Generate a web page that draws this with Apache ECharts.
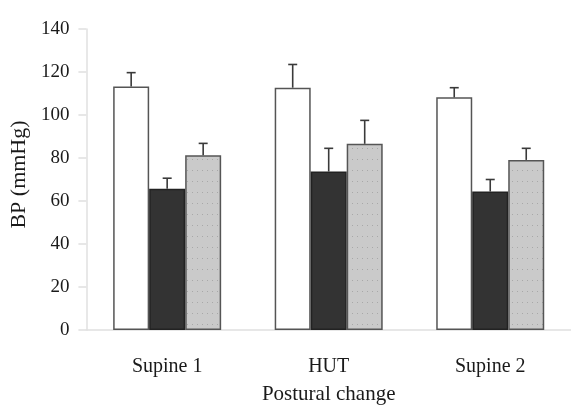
<!DOCTYPE html>
<html>
<head>
<meta charset="utf-8">
<script src="https://cdn.jsdelivr.net/npm/echarts@6/dist/echarts.min.js"></script>
<style>html,body{margin:0;padding:0;background:#fff;}#c{width:571px;height:410px;}</style>
</head>
<body>
<div id="c"></div>
<script>
var categories = ['Supine 1', 'HUT', 'Supine 2'];
var seriesA = [113.3, 112.7, 108.2];
var seriesB = [65.7, 73.7, 64.4];
var seriesC = [81.3, 86.6, 79.1];
var errA = [6.4, 10.8, 4.5];
var errB = [4.9, 10.8, 5.6];
var errC = [5.5, 10.9, 5.4];
var yTicks = [0, 20, 40, 60, 80, 100, 120, 140];

var FONT = 'Liberation Serif';
var BAR_W = 36;

// dotted pattern for light grey bars
var pc = document.createElement('canvas');
pc.width = 10; pc.height = 11;
var px = pc.getContext('2d');
px.fillStyle = '#cacaca';
px.fillRect(0, 0, 10, 11);
px.fillStyle = '#a8a8a8';
px.fillRect(2, 5, 1, 1);
px.fillRect(7, 5, 1, 1);

var chart = echarts.init(document.getElementById('c'), null, {renderer: 'canvas'});

function errSeries(vals, errs, idx) {
  var data = vals.map(function (v, i) { return [i, v, v + errs[i]]; });
  return {
    type: 'custom',
    z: 5,
    data: data,
    renderItem: function (params, api) {
      var c = api.value(0);
      var p0 = api.coord([c, api.value(1)]);
      var p1 = api.coord([c, api.value(2)]);
      var x = p0[0] + (idx - 1) * BAR_W;
      var st = {stroke: '#3a3a3a', lineWidth: 1.6, fill: null};
      return {
        type: 'group',
        children: [
          {type: 'line', shape: {x1: x, y1: p0[1], x2: x, y2: p1[1]}, style: st},
          {type: 'line', shape: {x1: x - 4.5, y1: p1[1], x2: x + 4.5, y2: p1[1]}, style: st}
        ]
      };
    }
  };
}

var option = {
  animation: false,
  backgroundColor: '#fff',
  grid: {left: 86, right: -4, top: 29, bottom: 79, containLabel: false},
  xAxis: {
    type: 'category',
    data: categories,
    name: 'Postural change',
    nameLocation: 'middle',
    nameGap: 54,
    nameTextStyle: {fontFamily: FONT, fontSize: 21, color: '#1a1a1a'},
    axisLine: {lineStyle: {color: '#e0e0e0', width: 1.5}},
    axisTick: {show: false},
    axisLabel: {fontFamily: FONT, fontSize: 20, color: '#1a1a1a', margin: 27}
  },
  yAxis: {
    type: 'value',
    min: yTicks[0],
    max: yTicks[yTicks.length - 1],
    interval: 20,
    name: 'BP (mmHg)',
    nameLocation: 'middle',
    nameGap: 52,
    nameTextStyle: {fontFamily: FONT, fontSize: 22, color: '#1a1a1a', padding: [0, 0, 0, 10]},
    axisLine: {show: true, lineStyle: {color: '#e0e0e0', width: 1.5}},
    axisTick: {show: true, length: 8, lineStyle: {color: '#e0e0e0', width: 1.5}},
    splitLine: {show: false},
    axisLabel: {fontFamily: FONT, fontSize: 19, color: '#1a1a1a', margin: 17}
  },
  series: [
    {type: 'bar', data: seriesA, barWidth: BAR_W, barGap: '0%',
     itemStyle: {color: '#ffffff', borderColor: '#555', borderWidth: 1.5}},
    {type: 'bar', data: seriesB, barWidth: BAR_W, barGap: '0%',
     itemStyle: {color: '#333333', borderColor: '#222', borderWidth: 1.5}},
    {type: 'bar', data: seriesC, barWidth: BAR_W, barGap: '0%',
     itemStyle: {color: {image: pc, repeat: 'repeat'}, borderColor: '#555', borderWidth: 1.5}},
    errSeries(seriesA, errA, 0),
    errSeries(seriesB, errB, 1),
    errSeries(seriesC, errC, 2)
  ]
};
chart.setOption(option);
</script>
</body>
</html>
